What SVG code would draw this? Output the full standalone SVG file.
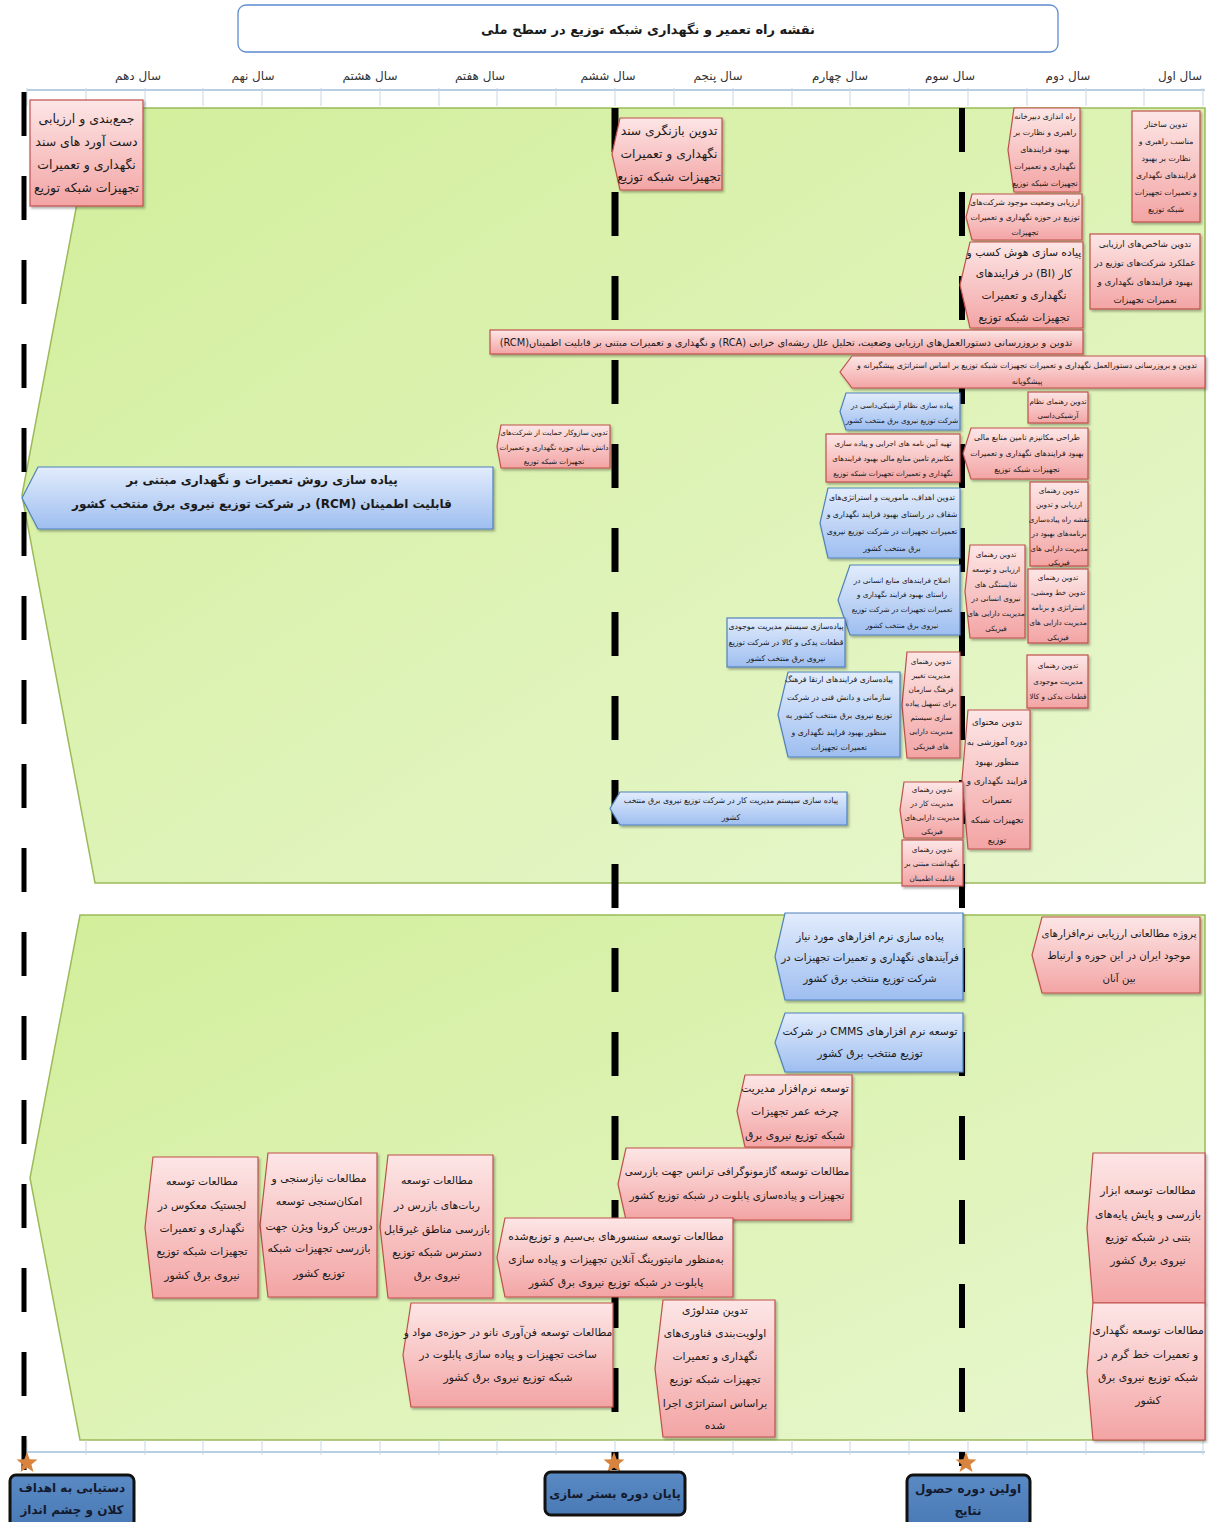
<svg xmlns="http://www.w3.org/2000/svg" width="1210" height="1522" viewBox="0 0 1210 1522">
<defs>
  <linearGradient id="gRed" x1="0" y1="0" x2="0" y2="1">
    <stop offset="0" stop-color="#fde6e6"/>
    <stop offset="1" stop-color="#f3a4a4"/>
  </linearGradient>
  <linearGradient id="gBlue" x1="0" y1="0" x2="0" y2="1">
    <stop offset="0" stop-color="#e2ecfc"/>
    <stop offset="1" stop-color="#9ebef0"/>
  </linearGradient>
  <linearGradient id="gGreen" x1="0" y1="0" x2="1" y2="1">
    <stop offset="0" stop-color="#d2ee9a"/>
    <stop offset="1" stop-color="#e8f7cf"/>
  </linearGradient>
  <linearGradient id="gMile" x1="0" y1="0" x2="0" y2="1">
    <stop offset="0" stop-color="#5a8ac4"/>
    <stop offset="1" stop-color="#4a7ab5"/>
  </linearGradient>
  <filter id="sh" x="-10%" y="-10%" width="125%" height="130%">
    <feDropShadow dx="1.5" dy="2" stdDeviation="1.2" flood-color="#000" flood-opacity="0.3"/>
  </filter>
  <polygon id="star" points="0,-11 2.7,-3.75 10.46,-3.4 4.41,1.43 6.47,8.9 0,4.64 -6.47,8.9 -4.41,1.43 -10.46,-3.4 -2.7,-3.75"/>
  <style>
    .r{fill:url(#gRed);stroke:#c0504d;stroke-width:1.2;filter:url(#sh)}
    .b{fill:url(#gBlue);stroke:#4f81bd;stroke-width:1.2;filter:url(#sh)}
    .panel{fill:url(#gGreen);stroke:#9bbb59;stroke-width:1.5}
    .t{font-family:"DejaVu Sans",sans-serif;fill:#1a1a1a;text-anchor:middle;dominant-baseline:central;direction:rtl}
    .yr{font-family:"DejaVu Sans",sans-serif;fill:#333;font-size:12px;text-anchor:middle;direction:rtl}
    .bold{font-weight:bold}
    .f7{font-size:7.2px}.f8{font-size:7.8px}.f9{font-size:8.8px}.f10{font-size:9.8px}.f11{font-size:10.8px}.f12{font-size:12.3px}.f13{font-size:12.5px}
    .tick{stroke:#c9d5e2;stroke-width:1}
    .axis{stroke:#9fbedd;stroke-width:1.5}
    .dash{fill:none;stroke:#000;stroke-dasharray:44 40}
    .mile{fill:url(#gMile);stroke:#111;stroke-width:3}
    .mt{font-family:"DejaVu Sans",sans-serif;font-weight:bold;font-size:12px;fill:#141a2e;text-anchor:middle;dominant-baseline:central;direction:rtl}
    .starc{fill:#d9843e}
  </style>
</defs>

<!-- title -->
<g id="title">
  <rect x="238" y="5" width="820" height="47" rx="8" fill="#fff" stroke="#5b8bd0" stroke-width="1.3"/>
  <text class="t bold" x="648" y="29" font-size="13">نقشه راه تعمیر و نگهداری شبکه توزیع در سطح ملی</text>
</g>

<!-- background panels -->
<path class="panel" d="M95,108 H1205 V883 H95 L22,495 Z"/>
<path class="panel" d="M80,915 H1205 V1440 H80 L30,1178 Z"/>

<!-- top year axis -->
<g id="axis-top">
  <line class="axis" x1="27" y1="90" x2="1205" y2="90"/>
  <g class="tick">
    <line x1="27" y1="88" x2="27" y2="106"/><line x1="86" y1="88" x2="86" y2="106"/><line x1="145" y1="88" x2="145" y2="106"/><line x1="203" y1="88" x2="203" y2="106"/><line x1="262" y1="88" x2="262" y2="106"/><line x1="321" y1="88" x2="321" y2="106"/><line x1="380" y1="88" x2="380" y2="106"/><line x1="439" y1="88" x2="439" y2="106"/><line x1="497" y1="88" x2="497" y2="106"/><line x1="556" y1="88" x2="556" y2="106"/><line x1="615" y1="88" x2="615" y2="106"/><line x1="674" y1="88" x2="674" y2="106"/><line x1="733" y1="88" x2="733" y2="106"/><line x1="792" y1="88" x2="792" y2="106"/><line x1="850" y1="88" x2="850" y2="106"/><line x1="909" y1="88" x2="909" y2="106"/><line x1="968" y1="88" x2="968" y2="106"/><line x1="1027" y1="88" x2="1027" y2="106"/><line x1="1086" y1="88" x2="1086" y2="106"/><line x1="1144" y1="88" x2="1144" y2="106"/><line x1="1203" y1="88" x2="1203" y2="106"/>
  </g>
  <text class="yr" x="1180" y="80">سال اول</text>
  <text class="yr" x="1068" y="80">سال دوم</text>
  <text class="yr" x="950" y="80">سال سوم</text>
  <text class="yr" x="840" y="80">سال چهارم</text>
  <text class="yr" x="718" y="80">سال پنجم</text>
  <text class="yr" x="608" y="80">سال ششم</text>
  <text class="yr" x="480" y="80">سال هفتم</text>
  <text class="yr" x="370" y="80">سال هشتم</text>
  <text class="yr" x="253" y="80">سال نهم</text>
  <text class="yr" x="138" y="80">سال دهم</text>
</g>

<!-- bottom axis -->
<g id="axis-bottom">
  <line class="axis" x1="27" y1="1452" x2="1205" y2="1452"/>
  <g class="tick">
    <line x1="27" y1="1440" x2="27" y2="1455"/><line x1="86" y1="1440" x2="86" y2="1455"/><line x1="145" y1="1440" x2="145" y2="1455"/><line x1="203" y1="1440" x2="203" y2="1455"/><line x1="262" y1="1440" x2="262" y2="1455"/><line x1="321" y1="1440" x2="321" y2="1455"/><line x1="380" y1="1440" x2="380" y2="1455"/><line x1="439" y1="1440" x2="439" y2="1455"/><line x1="497" y1="1440" x2="497" y2="1455"/><line x1="556" y1="1440" x2="556" y2="1455"/><line x1="615" y1="1440" x2="615" y2="1455"/><line x1="674" y1="1440" x2="674" y2="1455"/><line x1="733" y1="1440" x2="733" y2="1455"/><line x1="792" y1="1440" x2="792" y2="1455"/><line x1="850" y1="1440" x2="850" y2="1455"/><line x1="909" y1="1440" x2="909" y2="1455"/><line x1="968" y1="1440" x2="968" y2="1455"/><line x1="1027" y1="1440" x2="1027" y2="1455"/><line x1="1086" y1="1440" x2="1086" y2="1455"/><line x1="1144" y1="1440" x2="1144" y2="1455"/><line x1="1203" y1="1440" x2="1203" y2="1455"/>
  </g>
</g>

<!-- milestone lines -->
<g id="connectors">
  <line class="dash" x1="24" y1="92" x2="24" y2="1470" stroke-width="5"/>
  <line class="dash" x1="615" y1="108" x2="615" y2="1470" stroke-width="7"/>
  <line class="dash" x1="962" y1="108" x2="962" y2="1466" stroke-width="6"/>
</g>

<!-- upper panel: governance and process tasks -->
<g id="n-summary">
  <rect class="r" x="30" y="100" width="113" height="106"/>
  <text class="t f13" x="86.5"><tspan x="86.5" y="118">جمع‌بندی و ارزیابی</tspan><tspan x="86.5" y="141">دست آورد های سند</tspan><tspan x="86.5" y="164">نگهداری و تعمیرات</tspan><tspan x="86.5" y="187">تجهیزات شبکه توزیع</tspan></text>
</g>
<g id="n-revision">
  <path class="r" d="M620,118 H722 V190 H620 L612,154 Z"/>
  <text class="t f12" x="669"><tspan x="669" y="131">تدوین بازنگری سند</tspan><tspan x="669" y="154">نگهداری و تعمیرات</tspan><tspan x="669" y="177">تجهیزات شبکه توزیع</tspan></text>
</g>
<g id="n-structure">
  <rect class="r" x="1132" y="111" width="68" height="111"/>
  <text class="t f8" x="1166"><tspan x="1166" y="124">تدوین ساختار</tspan><tspan x="1166" y="141">مناسب راهبری و</tspan><tspan x="1166" y="158">نظارت بر بهبود</tspan><tspan x="1166" y="175">فرایندهای نگهداری</tspan><tspan x="1166" y="192">و تعمیرات تجهیزات</tspan><tspan x="1166" y="209">شبکه توزیع</tspan></text>
</g>
<g id="n-secretariat">
  <path class="r" d="M1014,108 H1080 V192 H1014 L1008,150 Z"/>
  <text class="t f8" x="1045"><tspan x="1045" y="116">راه اندازی دبیرخانه</tspan><tspan x="1045" y="132">راهبری و نظارت بر</tspan><tspan x="1045" y="149">بهبود فرایندهای</tspan><tspan x="1045" y="166">نگهداری و تعمیرات</tspan><tspan x="1045" y="183">تجهیزات شبکه توزیع</tspan></text>
</g>
<g id="n-assessment">
  <path class="r" d="M972,194 H1082 V240 H972 L966,217 Z"/>
  <text class="t f8" x="1025"><tspan x="1025" y="202">ارزیابی وضعیت موجود شرکت‌های</tspan><tspan x="1025" y="217">توزیع در حوزه نگهداری و تعمیرات</tspan><tspan x="1025" y="232">تجهیزات</tspan></text>
</g>
<g id="n-kpi">
  <rect class="r" x="1090" y="234" width="110" height="75"/>
  <text class="t f9" x="1145"><tspan x="1145" y="244">تدوین شاخص‌های ارزیابی</tspan><tspan x="1145" y="263">عملکرد شرکت‌های توزیع در</tspan><tspan x="1145" y="282">بهبود فرایندهای نگهداری و</tspan><tspan x="1145" y="300">تعمیرات تجهیزات</tspan></text>
</g>
<g id="n-bi">
  <path class="r" d="M970,242 H1083 V328 H970 L960,285 Z"/>
  <text class="t f11" x="1024"><tspan x="1024" y="252">پیاده سازی هوش کسب و</tspan><tspan x="1024" y="273">کار (BI) در فرایندهای</tspan><tspan x="1024" y="295">نگهداری و تعمیرات</tspan><tspan x="1024" y="317">تجهیزات شبکه توزیع</tspan></text>
</g>
<g id="n-rca-rcm">
  <rect class="r" x="490" y="330" width="593" height="24"/>
  <text class="t f10" x="786" y="342">تدوین و بروزرسانی دستورالعمل‌های ارزیابی وضعیت، تحلیل علل ریشه‌ای خرابی (RCA) و نگهداری و تعمیرات مبتنی بر قابلیت اطمینان(RCM)</text>
</g>
<g id="n-predictive">
  <path class="r" d="M852,356 H1205 V388 H852 L840,372 Z"/>
  <text class="t f8" x="1027"><tspan x="1027" y="365">تدوین و بروزرسانی دستورالعمل نگهداری و تعمیرات تجهیزات شبکه توزیع بر اساس استراتژی پیشگیرانه و</tspan><tspan x="1027" y="381">پیشگویانه</tspan></text>
</g>
<g id="n-archive-guide">
  <rect class="r" x="1028" y="392" width="60" height="31"/>
  <text class="t f7" x="1058"><tspan x="1058" y="401">تدوین رهنمای نظام</tspan><tspan x="1058" y="415">آرشیکی‌داسی</tspan></text>
</g>
<g id="n-archive-impl">
  <path class="b" d="M846,393 H960 V430 H846 L840,411.5 Z"/>
  <text class="t f7" x="902"><tspan x="902" y="405">پیاده سازی نظام آرشیکی‌داسی در</tspan><tspan x="902" y="420">شرکت توزیع نیروی برق منتخب کشور</tspan></text>
</g>
<g id="n-finance">
  <path class="r" d="M971,428 H1088 V479 H971 L963,453.5 Z"/>
  <text class="t f8" x="1027"><tspan x="1027" y="437">طراحی مکانیزم تامین منابع مالی</tspan><tspan x="1027" y="453">بهبود فرایندهای نگهداری و تعمیرات</tspan><tspan x="1027" y="469">تجهیزات شبکه توزیع</tspan></text>
</g>
<g id="n-finance-rules">
  <rect class="r" x="826" y="434" width="134" height="48"/>
  <text class="t f7" x="893"><tspan x="893" y="443">تهیه آیین نامه های اجرایی و پیاده سازی</tspan><tspan x="893" y="458">مکانیزم تامین منابع مالی بهبود فرایندهای</tspan><tspan x="893" y="473">نگهداری و تعمیرات تجهیزات شبکه توزیع</tspan></text>
</g>
<g id="n-knowledge">
  <path class="r" d="M501,425 H610 V468 H501 L497,446.5 Z"/>
  <text class="t f7" x="554"><tspan x="554" y="432">تدوین سازوکار حمایت از شرکت‌های</tspan><tspan x="554" y="447">دانش بنیان حوزه نگهداری و تعمیرات</tspan><tspan x="554" y="461">تجهیزات شبکه توزیع</tspan></text>
</g>
<g id="n-rcm">
  <path class="b" d="M38,467 H493 V529 H38 L22,498 Z"/>
  <text class="t bold" font-size="12" x="262"><tspan x="262" y="480">پیاده سازی روش تعمیرات و نگهداری مبتنی بر</tspan><tspan x="262" y="504">قابلیت اطمینان (RCM) در شرکت توزیع نیروی برق منتخب کشور</tspan></text>
</g>
<g id="n-goals">
  <path class="b" d="M828,488 H960 V558 H828 L820,523 Z"/>
  <text class="t f8" x="892"><tspan x="892" y="497">تدوین اهداف، ماموریت و استراتژی‌های</tspan><tspan x="892" y="514">شفاف در راستای بهبود فرایند نگهداری و</tspan><tspan x="892" y="531">تعمیرات تجهیزات در شرکت توزیع نیروی</tspan><tspan x="892" y="548">برق منتخب کشور</tspan></text>
</g>
<g id="n-roadmap-guide">
  <rect class="r" x="1030" y="482" width="58" height="84"/>
  <text class="t f7" x="1059"><tspan x="1059" y="490">تدوین رهنمای</tspan><tspan x="1059" y="504">ارزیابی و تدوین</tspan><tspan x="1059" y="519">نقشه راه پیاده‌سازی</tspan><tspan x="1059" y="533">برنامه‌های بهبود در</tspan><tspan x="1059" y="548">مدیریت دارایی های</tspan><tspan x="1059" y="562">فیزیکی</tspan></text>
</g>
<g id="n-competency-guide">
  <path class="r" d="M970,545 H1025 V638 H970 L965,591.5 Z"/>
  <text class="t f7" x="996"><tspan x="996" y="554">تدوین رهنمای</tspan><tspan x="996" y="569">ارزیابی و توسعه</tspan><tspan x="996" y="584">شایستگی های</tspan><tspan x="996" y="598">نیروی انسانی در</tspan><tspan x="996" y="613">مدیریت دارایی های</tspan><tspan x="996" y="628">فیزیکی</tspan></text>
</g>
<g id="n-policy-guide">
  <rect class="r" x="1028" y="569" width="60" height="74"/>
  <text class="t f7" x="1058"><tspan x="1058" y="577">تدوین رهنمای</tspan><tspan x="1058" y="592">تدوین خط ومشی،</tspan><tspan x="1058" y="607">استراتژی و برنامه</tspan><tspan x="1058" y="622">مدیریت دارایی های</tspan><tspan x="1058" y="637">فیزیکی</tspan></text>
</g>
<g id="n-hr">
  <path class="b" d="M850,565 H960 V635 H850 L838,600 Z"/>
  <text class="t f7" x="902"><tspan x="902" y="580">اصلاح فرایندهای منابع انسانی در</tspan><tspan x="902" y="594">راستای بهبود فرایند نگهداری و</tspan><tspan x="902" y="609">تعمیرات تجهیزات در شرکت توزیع</tspan><tspan x="902" y="625">نیروی برق منتخب کشور</tspan></text>
</g>
<g id="n-inventory">
  <rect class="b" x="727" y="618" width="118" height="49"/>
  <text class="t f8" x="786"><tspan x="786" y="626">پیاده‌سازی سیستم مدیریت موجودی</tspan><tspan x="786" y="642">قطعات یدکی و کالا در شرکت توزیع</tspan><tspan x="786" y="658">نیروی برق منتخب کشور</tspan></text>
</g>
<g id="n-change-guide">
  <path class="r" d="M907,652 H960 V758 H907 L902,705 Z"/>
  <text class="t f7" x="931"><tspan x="931" y="661">تدوین رهنمای</tspan><tspan x="931" y="675">مدیریت تغییر</tspan><tspan x="931" y="689">فرهنگ سازمان</tspan><tspan x="931" y="703">برای تسهیل پیاده</tspan><tspan x="931" y="717">سازی سیستم</tspan><tspan x="931" y="731">مدیریت دارایی</tspan><tspan x="931" y="746">های فیزیکی</tspan></text>
</g>
<g id="n-inventory-guide">
  <rect class="r" x="1027" y="655" width="61" height="53"/>
  <text class="t f7" x="1058"><tspan x="1058" y="665">تدوین رهنمای</tspan><tspan x="1058" y="681">مدیریت موجودی</tspan><tspan x="1058" y="696">قطعات یدکی و کالا</tspan></text>
</g>
<g id="n-culture">
  <path class="b" d="M788,672 H900 V757 H788 L778,714.5 Z"/>
  <text class="t f8" x="839"><tspan x="839" y="679">پیاده‌سازی فرایندهای ارتقا فرهنگ</tspan><tspan x="839" y="697">سازمانی و دانش فنی در شرکت</tspan><tspan x="839" y="715">توزیع نیروی برق منتخب کشور به</tspan><tspan x="839" y="732">منظور بهبود فرایند نگهداری و</tspan><tspan x="839" y="747">تعمیرات تجهیزات</tspan></text>
</g>
<g id="n-training">
  <path class="r" d="M968,710 H1030 V849 H968 L962,779.5 Z"/>
  <text class="t f9" x="997"><tspan x="997" y="722">تدوین محتوای</tspan><tspan x="997" y="742">دوره آموزشی به</tspan><tspan x="997" y="762">منظور بهبود</tspan><tspan x="997" y="781">فرایند نگهداری و</tspan><tspan x="997" y="800">تعمیرات</tspan><tspan x="997" y="820">تجهیزات شبکه</tspan><tspan x="997" y="840">توزیع</tspan></text>
</g>
<g id="n-work-mgmt">
  <path class="b" d="M620,792 H847 V825 H620 L610,808.5 Z"/>
  <text class="t f8" x="731"><tspan x="731" y="800">پیاده سازی سیستم مدیریت کار در شرکت توزیع نیروی برق منتخب</tspan><tspan x="731" y="817">کشور</tspan></text>
</g>
<g id="n-work-guide">
  <path class="r" d="M904,782 H963 V838 H904 L900,810 Z"/>
  <text class="t f7" x="932"><tspan x="932" y="789">تدوین رهنمای</tspan><tspan x="932" y="803">مدیریت کار در</tspan><tspan x="932" y="817">مدیریت دارایی‌های</tspan><tspan x="932" y="831">فیزیکی</tspan></text>
</g>
<g id="n-rcm-guide">
  <rect class="r" x="902" y="840" width="61" height="46"/>
  <text class="t f7" x="932"><tspan x="932" y="849">تدوین رهنمای</tspan><tspan x="932" y="863">نگهداشت مبتنی بر</tspan><tspan x="932" y="878">قابلیت اطمینان</tspan></text>
</g>

<!-- lower panel: software and technology studies -->
<g id="n-software-study">
  <path class="r" d="M1042,917 H1200 V993 H1042 L1032,955 Z"/>
  <text class="t" font-size="10.2" x="1119"><tspan x="1119" y="933">پروژه مطالعاتی ارزیابی نرم‌افزارهای</tspan><tspan x="1119" y="955">موجود ایران در این حوزه و ارتباط</tspan><tspan x="1119" y="978">بین آنان</tspan></text>
</g>
<g id="n-software-impl">
  <path class="b" d="M785,913 H963 V1000 H785 L775,956.5 Z"/>
  <text class="t" font-size="10.3" x="870"><tspan x="870" y="936">پیاده سازی نرم افزارهای مورد نیاز</tspan><tspan x="870" y="957">فرآیندهای نگهداری و تعمیرات تجهیزات در</tspan><tspan x="870" y="978">شرکت توزیع منتخب برق کشور</tspan></text>
</g>
<g id="n-cmms">
  <path class="b" d="M785,1013 H963 V1072 H785 L775,1042.5 Z"/>
  <text class="t f11" x="870"><tspan x="870" y="1031">توسعه نرم افزارهای CMMS در شرکت</tspan><tspan x="870" y="1053">توزیع منتخب برق کشور</tspan></text>
</g>
<g id="n-lifecycle">
  <path class="r" d="M745,1075 H852 V1147 H745 L737,1111 Z"/>
  <text class="t f11" x="795"><tspan x="795" y="1088">توسعه نرم‌افزار مدیریت</tspan><tspan x="795" y="1111">چرخه عمر تجهیزات</tspan><tspan x="795" y="1135">شبکه توزیع نیروی برق</tspan></text>
</g>
<g id="n-gas">
  <path class="r" d="M626,1148 H851 V1220 H626 L618,1184 Z"/>
  <text class="t" font-size="10.4" x="737"><tspan x="737" y="1171">مطالعات توسعه گازمونوگرافی ترانس جهت بازرسی</tspan><tspan x="737" y="1195">تجهیزات و پیاده‌سازی پابلوت در شبکه توزیع کشور</tspan></text>
</g>
<g id="n-sensors">
  <path class="r" d="M505,1218 H733 V1297 H505 L497,1257.5 Z"/>
  <text class="t f11" x="616"><tspan x="616" y="1236">مطالعات توسعه سنسورهای بی‌سیم و توزیع‌شده</tspan><tspan x="616" y="1259">به‌منظور مانیتورینگ آنلاین تجهیزات و پیاده سازی</tspan><tspan x="616" y="1282">پابلوت در شبکه توزیع نیروی برق کشور</tspan></text>
</g>
<g id="n-robots">
  <path class="r" d="M388,1155 H493 V1298 H388 L380,1226.5 Z"/>
  <text class="t f11" x="437"><tspan x="437" y="1180">مطالعات توسعه</tspan><tspan x="437" y="1205">ربات‌های بازرس در</tspan><tspan x="437" y="1229">بازرسی مناطق غیرقابل</tspan><tspan x="437" y="1252">دسترس شبکه توزیع</tspan><tspan x="437" y="1275">نیروی برق</tspan></text>
</g>
<g id="n-corona">
  <path class="r" d="M268,1153 H377 V1297 H268 L260,1225 Z"/>
  <text class="t f11" x="319"><tspan x="319" y="1178">مطالعات نیازسنجی و</tspan><tspan x="319" y="1201">امکان‌سنجی توسعه</tspan><tspan x="319" y="1226">دوربین کرونا ویژن جهت</tspan><tspan x="319" y="1248">بازرسی تجهیزات شبکه</tspan><tspan x="319" y="1273">توزیع کشور</tspan></text>
</g>
<g id="n-logistics">
  <path class="r" d="M153,1157 H258 V1298 H153 L145,1227.5 Z"/>
  <text class="t f11" x="202"><tspan x="202" y="1181">مطالعات توسعه</tspan><tspan x="202" y="1205">لجستیک معکوس در</tspan><tspan x="202" y="1228">نگهداری و تعمیرات</tspan><tspan x="202" y="1251">تجهیزات شبکه توزیع</tspan><tspan x="202" y="1275">نیروی برق کشور</tspan></text>
</g>
<g id="n-nano">
  <path class="r" d="M411,1303 H613 V1407 H411 L403,1355 Z"/>
  <text class="t f11" x="508"><tspan x="508" y="1332">مطالعات توسعه فن‌آوری نانو در حوزه‌ی مواد و</tspan><tspan x="508" y="1354">ساخت تجهیزات و پیاده سازی پابلوت در</tspan><tspan x="508" y="1377">شبکه توزیع نیروی برق کشور</tspan></text>
</g>
<g id="n-methodology">
  <path class="r" d="M663,1300 H775 V1437 H663 L655,1368.5 Z"/>
  <text class="t f11" x="715"><tspan x="715" y="1310">تدوین متدلوژی</tspan><tspan x="715" y="1333">اولویت‌بندی فناوری‌های</tspan><tspan x="715" y="1356">نگهداری و تعمیرات</tspan><tspan x="715" y="1379">تجهیزات شبکه توزیع</tspan><tspan x="715" y="1403">براساس استراتژی اجرا</tspan><tspan x="715" y="1425">شده</tspan></text>
</g>
<g id="n-poles">
  <path class="r" d="M1093,1153 H1205 V1303 H1093 L1087,1228 Z"/>
  <text class="t f11" x="1148"><tspan x="1148" y="1190">مطالعات توسعه ابزار</tspan><tspan x="1148" y="1214">بازرسی و پایش پایه‌های</tspan><tspan x="1148" y="1237">بتنی در شبکه توزیع</tspan><tspan x="1148" y="1260">نیروی برق کشور</tspan></text>
</g>
<g id="n-liveline">
  <path class="r" d="M1093,1303 H1205 V1440 H1093 L1087,1371.5 Z"/>
  <text class="t f11" x="1148"><tspan x="1148" y="1330">مطالعات توسعه نگهداری</tspan><tspan x="1148" y="1354">و تعمیرات خط گرم در</tspan><tspan x="1148" y="1377">شبکه توزیع نیروی برق</tspan><tspan x="1148" y="1400">کشور</tspan></text>
</g>

<!-- milestones -->
<g id="m-vision">
  <use href="#star" class="starc" x="27" y="1463"/>
  <rect class="mile" x="10" y="1475" width="124" height="52" rx="6" stroke="#385d8a" stroke-width="2"/>
  <text class="mt" x="72"><tspan x="72" y="1488">دستیابی به اهداف</tspan><tspan x="72" y="1510">کلان و چشم انداز</tspan></text>
</g>
<g id="m-foundation">
  <use href="#star" class="starc" x="614" y="1463"/>
  <rect class="mile" x="545" y="1472" width="140" height="43" rx="6"/>
  <text class="mt" x="615" y="1494">پایان دوره بستر سازی</text>
</g>
<g id="m-results">
  <use href="#star" class="starc" x="966" y="1463"/>
  <rect class="mile" x="907" y="1475" width="123" height="52" rx="6"/>
  <text class="mt" x="968"><tspan x="968" y="1489">اولین دوره حصول</tspan><tspan x="968" y="1511">نتایج</tspan></text>
</g>
</svg>
